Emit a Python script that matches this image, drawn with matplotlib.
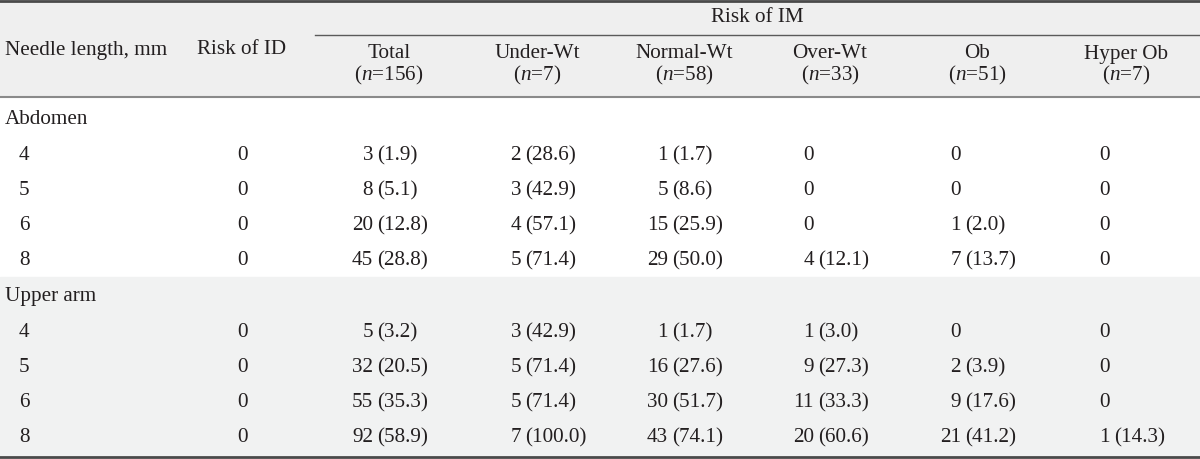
import matplotlib
matplotlib.use("Agg")
import matplotlib.pyplot as plt
from matplotlib.patches import Rectangle

plt.rcParams['font.family'] = ['Liberation Serif', 'DejaVu Serif']
plt.rcParams['mathtext.fontset'] = 'custom'
plt.rcParams['mathtext.rm'] = 'Liberation Serif'
plt.rcParams['mathtext.it'] = 'Liberation Serif:italic'

# table content
groups = ["Under-Wt", "Normal-Wt", "Over-Wt", "Ob", "Hyper Ob"]
group_n = [7, 58, 33, 51, 7]
total_n = 156
sections = ["Abdomen", "Upper arm"]
needle = ["4", "5", "6", "8"]
risk_id = [["0", "0", "0", "0"], ["0", "0", "0", "0"]]
# columns: Total, Under-Wt, Normal-Wt, Over-Wt, Ob, Hyper Ob
abdomen = [
    ["3 (1.9)", "2 (28.6)", "1 (1.7)", "0", "0", "0"],
    ["8 (5.1)", "3 (42.9)", "5 (8.6)", "0", "0", "0"],
    ["20 (12.8)", "4 (57.1)", "15 (25.9)", "0", "1 (2.0)", "0"],
    ["45 (28.8)", "5 (71.4)", "29 (50.0)", "4 (12.1)", "7 (13.7)", "0"],
]
upper_arm = [
    ["5 (3.2)", "3 (42.9)", "1 (1.7)", "1 (3.0)", "0", "0"],
    ["32 (20.5)", "5 (71.4)", "16 (27.6)", "9 (27.3)", "2 (3.9)", "0"],
    ["55 (35.3)", "5 (71.4)", "30 (51.7)", "11 (33.3)", "9 (17.6)", "0"],
    ["92 (58.9)", "7 (100.0)", "43 (74.1)", "20 (60.6)", "21 (41.2)", "1 (14.3)"],
]
section_values = [abdomen, upper_arm]

txt = "#231f20"
fs = 15.2

fig = plt.figure(figsize=(12, 4.6), dpi=100)
ax = fig.add_axes([0, 0, 1, 1])
ax.set_xlim(0, 1200)
ax.set_ylim(460, 0)
ax.axis("off")

# backgrounds
ax.add_patch(Rectangle((0, 0), 1200, 97, color="#efefef", zorder=0))
ax.add_patch(Rectangle((0, 278), 1200, 180, color="#f1f2f2", zorder=0))

# rules
ax.plot([0, 1200], [1.5, 1.5], color="#4a4a4a", lw=2)
ax.plot([315, 1200], [36, 36], color="#5a5a5a", lw=1)
ax.plot([0, 1200], [97.5, 97.5], color="#8a8a8a", lw=1.5)
ax.plot([0, 1200], [458, 458], color="#4a4a4a", lw=2)

# header
col_x = [389, 537, 684, 830, 977, 1126]
ax.text(5, 50, "Needle length, mm", ha="left", va="center", fontsize=fs, color=txt)
ax.text(242, 50, "Risk of ID", ha="center", va="center", fontsize=fs, color=txt)
ax.text(757, 18, "Risk of IM", ha="center", va="center", fontsize=fs, color=txt)
names = ["Total"] + groups
ns = [total_n] + group_n
for x, name, n in zip(col_x, names, ns):
    ax.text(x, 54, name, ha="center", va="center", fontsize=fs, color=txt)
    ax.text(x, 75, "($n$=%d)" % n, ha="center", va="center", fontsize=fs, color=txt)

# body
section_y = [120, 297]
row_step = 35
for s, (label, sy) in enumerate(zip(sections, section_y)):
    ax.text(5, sy, label, ha="left", va="center", fontsize=fs, color=txt)
    for r, nl in enumerate(needle):
        y = sy + 36 + r * row_step
        ax.text(19, y, nl, ha="left", va="center", fontsize=fs, color=txt)
        ax.text(242, y, risk_id[s][r], ha="center", va="center", fontsize=fs, color=txt)
        for c, val in enumerate(section_values[s][r]):
            anchor = col_x[c] - 12
            parts = val.split(" ", 1)
            ax.text(anchor - 4, y, parts[0], ha="right", va="center", fontsize=fs, color=txt)
            if len(parts) > 1:
                ax.text(anchor, y, parts[1], ha="left", va="center", fontsize=fs, color=txt)

fig.savefig("out.png", dpi=100)
